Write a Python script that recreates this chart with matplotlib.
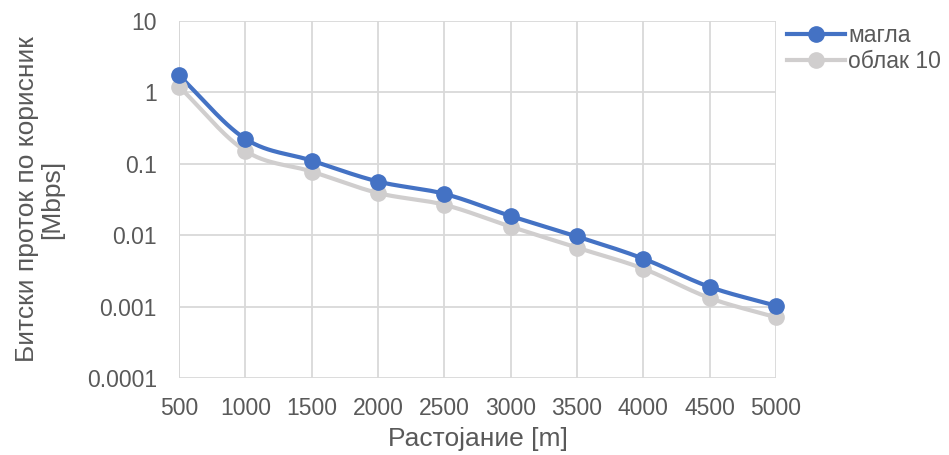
import numpy as np
import matplotlib.pyplot as plt
from matplotlib.ticker import FixedLocator, FixedFormatter

plt.rcParams['font.family'] = ['Liberation Sans', 'DejaVu Sans']

distance = [500, 1000, 1500, 2000, 2500, 3000, 3500, 4000, 4500, 5000]
fog = [1.73, 0.224, 0.111, 0.0565, 0.038, 0.0186, 0.0096, 0.0047, 0.00189, 0.00103]
cloud = [1.21, 0.152, 0.078, 0.039, 0.0267, 0.0132, 0.0067, 0.0034, 0.00132, 0.00071]
ytick_vals = [0.0001, 0.001, 0.01, 0.1, 1, 10]
ytick_text = ['0.0001', '0.001', '0.01', '0.1', '1', '10']

BLUE = '#4472C4'
GREY = '#D0CECE'
TEXT = '#595959'
GRID = '#D9D9D9'


def smooth(x, y, n=30):
    # Catmull-Rom spline in (x, log y) space, like Excel's smoothed line
    x = np.asarray(x, float)
    ly = np.log10(y)
    px = np.concatenate([[2 * x[0] - x[1]], x, [2 * x[-1] - x[-2]]])
    py = np.concatenate([[2 * ly[0] - ly[1]], ly, [2 * ly[-1] - ly[-2]]])
    xs, ys = [], []
    t = np.linspace(0, 1, n)
    for i in range(1, len(px) - 2):
        for arr, out in ((px, xs), (py, ys)):
            p0, p1, p2, p3 = arr[i - 1], arr[i], arr[i + 1], arr[i + 2]
            out.extend(0.5 * ((2 * p1) + (-p0 + p2) * t
                              + (2 * p0 - 5 * p1 + 4 * p2 - p3) * t ** 2
                              + (-p0 + 3 * p1 - 3 * p2 + p3) * t ** 3))
    return np.array(xs), 10 ** np.array(ys)


fig = plt.figure(figsize=(9.49, 4.55), dpi=100)
ax = fig.add_axes([0.1886, 0.1692, 0.629, 0.7846])

for vals, color in ((cloud, GREY), (fog, BLUE)):
    sx, sy = smooth(distance, vals)
    ax.plot(sx, sy, color=color, lw=3, solid_capstyle='round', zorder=3,
            clip_on=False)
    ax.plot(distance, vals, 'o', color=color, ms=11, zorder=4, clip_on=False)

ax.set_yscale('log')
ax.set_xlim(500, 5000)
ax.set_ylim(0.0001, 10)
ax.yaxis.set_major_locator(FixedLocator(ytick_vals))
ax.yaxis.set_major_formatter(FixedFormatter(ytick_text))
ax.yaxis.set_minor_locator(FixedLocator([]))
ax.set_xticks(distance)
ax.set_xticklabels([str(d) for d in distance])

ax.grid(True, color=GRID, lw=1.3, zorder=0)
for s in ax.spines.values():
    s.set_visible(False)
ax.axvline(500, color='#BFBFBF', lw=1.3, zorder=1)
ax.tick_params(axis='y', length=0, labelsize=16.5, labelcolor=TEXT, pad=16)
ax.tick_params(axis='x', length=0, labelsize=16.5, labelcolor=TEXT, pad=14)

ax.set_xlabel('Растојание [m]', fontsize=19, color=TEXT, labelpad=5)
ax.set_ylabel('Битски проток по корисник\n[Mbps]', fontsize=19, color=TEXT,
              labelpad=16, linespacing=1.1)

# legend entries, blue first
h_fog = plt.Line2D([], [], color=BLUE, lw=3, marker='o', ms=11)
h_cloud = plt.Line2D([], [], color=GREY, lw=3, marker='o', ms=11)
ax.legend([h_fog, h_cloud], ['магла', 'облак 10'], loc='upper left',
          bbox_to_anchor=(1.0, 1.025), frameon=False, fontsize=16.5,
          labelcolor=TEXT, handlelength=2.5, handletextpad=0.15,
          labelspacing=0.15, borderaxespad=0.3, borderpad=0.2)

fig.savefig('out.png', dpi=100)
